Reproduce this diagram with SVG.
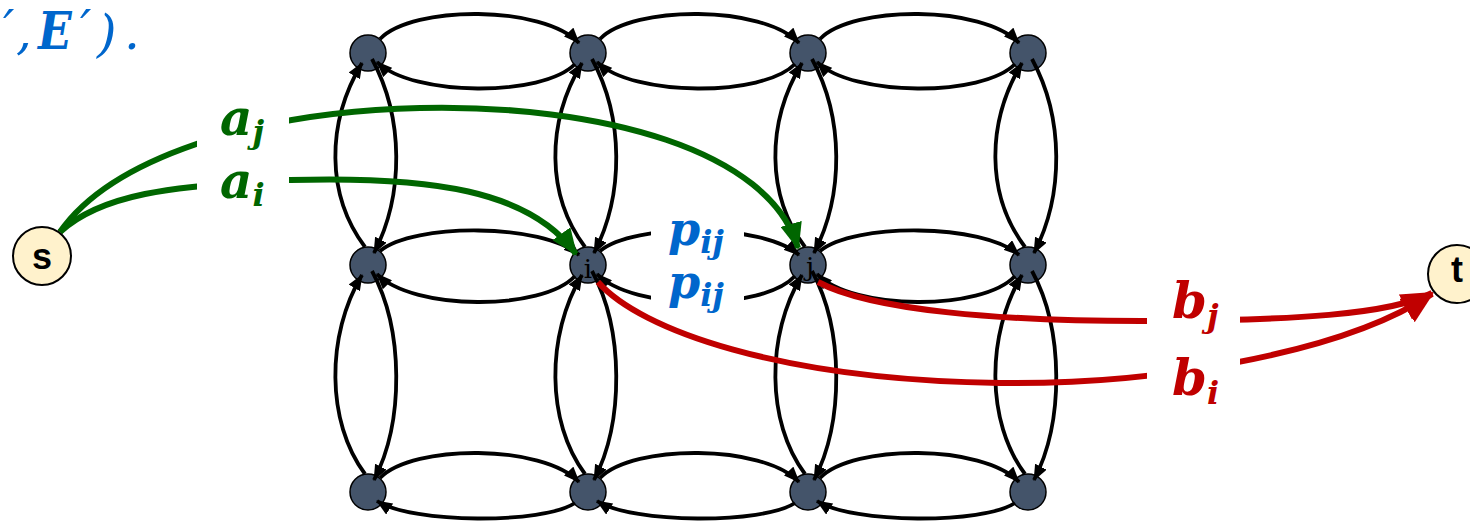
<svg xmlns="http://www.w3.org/2000/svg" width="1470" height="523" viewBox="0 0 1470 523">
<style>
.gn{fill:#44546a;stroke:#000;stroke-width:1.5}
.io{fill:#fff2cc;stroke:#000;stroke-width:2}
.e{fill:none;stroke:#000;stroke-width:3.8;marker-end:url(#ak)}
.g{fill:none;stroke:#006600;stroke-width:6;marker-end:url(#ag)}
.r{fill:none;stroke:#c00000;stroke-width:6;marker-end:url(#ar)}
.lbl{font-family:"DejaVu Serif",serif;font-weight:bold;font-style:italic;font-size:50px}
.pl{font-size:46px}
.sub{font-size:32px}
.nl{font-family:"DejaVu Serif",serif;font-size:26px;fill:#000;text-anchor:middle}
.st{font-family:"Liberation Sans",Arial,sans-serif;font-weight:bold;font-size:36px;fill:#000;text-anchor:middle}
.cap{font-family:"DejaVu Serif",serif;font-size:50px;fill:#0066cc;font-style:italic}
.capb{font-family:"DejaVu Serif",serif;font-size:52px;fill:#0066cc;font-style:italic;font-weight:bold}
.bg{fill:#fff}
</style>
<defs>
<marker id="ak" markerUnits="userSpaceOnUse" markerWidth="16" markerHeight="13" refX="15" refY="6.5" orient="auto"><path d="M0,0 L16,6.5 L0,13 z" fill="#000"/></marker>
<marker id="ag" markerUnits="userSpaceOnUse" markerWidth="27" markerHeight="22" refX="25" refY="11" orient="auto"><path d="M0,0 L27,11 L0,22 z" fill="#006600"/></marker>
<marker id="ar" markerUnits="userSpaceOnUse" markerWidth="32" markerHeight="28" refX="30" refY="14" orient="auto"><path d="M0,0 L32,14 L0,28 z" fill="#c00000"/></marker>
</defs>
<rect width="1470" height="523" fill="#fff"/>

<g id="caption">
<text class="cap" x="3" y="46">′</text>
<text class="cap" x="16" y="49">,</text>
<text class="capb" transform="translate(38,49) scale(0.85,1)">E</text>
<text class="cap" x="80" y="46">′</text>
<text class="cap" x="97" y="51">)</text>
<text class="cap" x="124" y="49" fill="#000" font-style="normal">.</text>
</g>

<g id="n00"><circle class="gn" cx="368" cy="53" r="18"/></g>
<g id="n01"><circle class="gn" cx="588" cy="53" r="18"/></g>
<g id="n02"><circle class="gn" cx="808" cy="53" r="18"/></g>
<g id="n03"><circle class="gn" cx="1028" cy="53" r="18"/></g>
<g id="n10"><circle class="gn" cx="368" cy="265" r="18"/></g>
<g id="node-i"><circle class="gn" cx="588" cy="265" r="18"/><text class="nl" x="588" y="278">i</text></g>
<g id="node-j"><circle class="gn" cx="808" cy="265" r="18"/><text class="nl" x="810" y="276">j</text></g>
<g id="n13"><circle class="gn" cx="1028" cy="265" r="18"/></g>
<g id="n20"><circle class="gn" cx="368" cy="492" r="18"/></g>
<g id="n21"><circle class="gn" cx="588" cy="492" r="18"/></g>
<g id="n22"><circle class="gn" cx="808" cy="492" r="18"/></g>
<g id="n23"><circle class="gn" cx="1028" cy="492" r="18"/></g>

<g id="connectors">
<path class="e" d="M380,39 C413,5 543,5 579,43"/>
<path class="e" d="M600,39 C633,5 763,5 799,43"/>
<path class="e" d="M820,39 C853,5 983,5 1019,43"/>
<path class="e" d="M380,251 C413,223 543,223 579,255"/>
<path class="e" d="M600,251 C633,223 763,223 799,255"/>
<path class="e" d="M820,251 C853,223 983,223 1019,255"/>
<path class="e" d="M380,478 C413,444 543,444 579,482"/>
<path class="e" d="M600,478 C633,444 763,444 799,482"/>
<path class="e" d="M820,478 C853,444 983,444 1019,482"/>
<path class="e" d="M575,64 C543,97 413,97 377,62"/>
<path class="e" d="M795,64 C763,97 633,97 597,62"/>
<path class="e" d="M1015,64 C983,97 853,97 817,62"/>
<path class="e" d="M575,276 C543,311 413,311 377,274"/>
<path class="e" d="M795,276 C763,311 633,311 597,274"/>
<path class="e" d="M1015,276 C983,311 853,311 817,274"/>
<path class="e" d="M575,503 C543,524 413,524 377,501"/>
<path class="e" d="M795,503 C763,524 633,524 597,501"/>
<path class="e" d="M1015,503 C983,524 853,524 817,501"/>
<path class="e" d="M365,247 C326,195 326,123 362,63"/>
<path class="e" d="M585,247 C546,195 546,123 582,63"/>
<path class="e" d="M805,247 C766,195 766,123 802,63"/>
<path class="e" d="M1025,247 C986,195 986,123 1022,63"/>
<path class="e" d="M365,474 C326,422 326,335 362,275"/>
<path class="e" d="M585,474 C546,422 546,335 582,275"/>
<path class="e" d="M805,474 C766,422 766,335 802,275"/>
<path class="e" d="M1025,474 C986,422 986,335 1022,275"/>
<path class="e" d="M372,59 C404,118 404,195 374,253"/>
<path class="e" d="M592,59 C624,118 624,195 594,253"/>
<path class="e" d="M812,59 C844,118 844,195 814,253"/>
<path class="e" d="M1032,59 C1064,118 1064,195 1034,253"/>
<path class="e" d="M372,271 C404,330 404,422 374,480"/>
<path class="e" d="M592,271 C624,330 624,422 594,480"/>
<path class="e" d="M812,271 C844,330 844,422 814,480"/>
<path class="e" d="M1032,271 C1064,330 1064,422 1034,480"/>
<path class="g" d="M60,232 C110,160 250,112 420,108 C600,104 770,150 798,248"/>
<path class="g" d="M60,232 C100,195 170,185 290,180 C430,176 530,190 576,254"/>
<path class="r" d="M818,282 C870,310 1000,322 1160,321 C1290,320 1390,315 1432,293"/>
<path class="r" d="M598,282 C640,330 780,380 1000,383 C1150,385 1340,355 1432,294"/>
</g>

<g id="node-s"><circle class="io" cx="42" cy="256" r="29"/><text class="st" x="42" y="269">s</text></g>
<g id="node-t"><circle class="io" cx="1457" cy="274" r="29"/><text class="st" x="1457" y="282">t</text></g>

<g id="labels">
<rect class="bg" x="197" y="98" width="92" height="56"/>
<rect class="bg" x="197" y="160" width="92" height="52"/>
<rect class="bg" x="651" y="218" width="93" height="44"/>
<rect class="bg" x="651" y="272" width="93" height="42"/>
<rect class="bg" x="1147" y="282" width="93" height="56"/>
<rect class="bg" x="1147" y="352" width="93" height="60"/>
<text class="lbl" x="220" y="135" fill="#006600">a<tspan class="sub" dy="8">j</tspan></text>
<text class="lbl" x="220" y="198" fill="#006600">a<tspan class="sub" dy="8">i</tspan></text>
<text class="lbl pl" x="668" y="245" fill="#0066cc">p<tspan class="sub" dy="8">ij</tspan></text>
<text class="lbl pl" x="668" y="298" fill="#0066cc">p<tspan class="sub" dy="8">ij</tspan></text>
<text class="lbl" x="1172" y="318" fill="#c00000">b<tspan class="sub" dy="9">j</tspan></text>
<text class="lbl" x="1172" y="395" fill="#c00000">b<tspan class="sub" dy="9">i</tspan></text>
</g>
</svg>
